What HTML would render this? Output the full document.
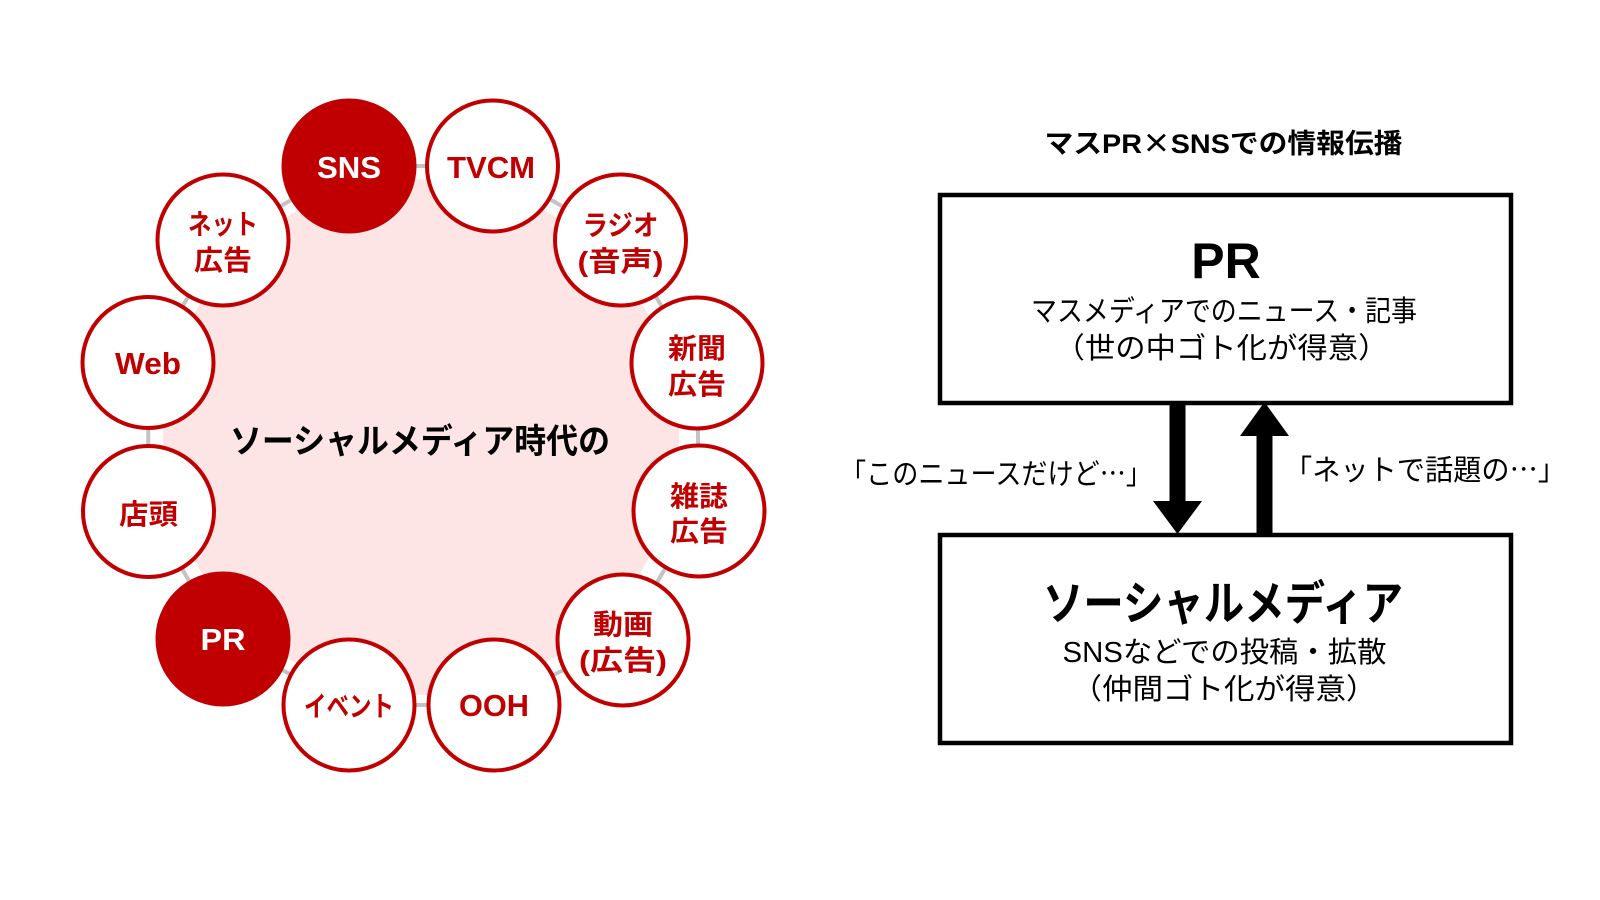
<!DOCTYPE html>
<html lang="ja">
<head>
<meta charset="utf-8">
<style>
  html,body{margin:0;padding:0;background:#fff;}
  body{width:1600px;height:900px;overflow:hidden;}
  svg{display:block;}
  .lat{font-family:"Liberation Sans","Noto Sans CJK JP",sans-serif;font-weight:700;}
  .jpb{font-family:"Liberation Sans","Noto Sans CJK JP",sans-serif;font-weight:700;}
  .jp{font-family:"Liberation Sans","Noto Sans CJK JP",sans-serif;font-weight:400;}
  .cjk{font-family:"Noto Sans CJK JP",sans-serif;}
</style>
</head>
<body>
<svg width="1600" height="900" viewBox="0 0 1600 900" xmlns="http://www.w3.org/2000/svg">
  <rect x="0" y="0" width="1600" height="900" fill="#ffffff"/>

  <!-- pink inner disc -->
  <circle cx="421" cy="437" r="258" fill="#fde5e5"/>

  <!-- gray connectors -->
  <polygon points="349,166 492.5,166 620.5,240 697,363 699,511 623,640 494,705 349,705 223,639 148.5,511.5 148,362.5 223,240"
           fill="none" stroke="#c3c3c3" stroke-width="4"/>

  <!-- circles -->
  <g stroke="#c00000" stroke-width="4">
    <circle cx="349" cy="166" r="65.5" fill="#c00000"/>
    <circle cx="492.5" cy="166" r="65.5" fill="#fff"/>
    <circle cx="620.5" cy="240" r="65.5" fill="#fff"/>
    <circle cx="697" cy="363" r="65.5" fill="#fff"/>
    <circle cx="699" cy="511" r="65.5" fill="#fff"/>
    <circle cx="623" cy="640" r="65.5" fill="#fff"/>
    <circle cx="494" cy="705" r="65.5" fill="#fff"/>
    <circle cx="349" cy="705" r="65.5" fill="#fff"/>
    <circle cx="223" cy="639" r="65.5" fill="#c00000"/>
    <circle cx="148.5" cy="511.5" r="65.5" fill="#fff"/>
    <circle cx="148" cy="362.5" r="65.5" fill="#fff"/>
    <circle cx="223" cy="240" r="65.5" fill="#fff"/>
  </g>

  <!-- circle labels -->
  <g text-anchor="middle" fill="#c00000">
    <text class="lat" x="349" y="178" font-size="31" fill="#ffffff" textLength="64" lengthAdjust="spacingAndGlyphs">SNS</text>
    <text class="lat" x="491" y="178" font-size="31" textLength="88" lengthAdjust="spacingAndGlyphs">TVCM</text>

    <text class="jpb" x="620.5" y="235" font-size="28" textLength="76" lengthAdjust="spacingAndGlyphs">ラジオ</text>
    <text class="jpb" x="620.5" y="271" font-size="28" textLength="86" lengthAdjust="spacingAndGlyphs">(音声)</text>

    <text class="jpb" x="697" y="358" font-size="28" textLength="58" lengthAdjust="spacingAndGlyphs">新聞</text>
    <text class="jpb" x="697" y="394" font-size="28" textLength="58" lengthAdjust="spacingAndGlyphs">広告</text>

    <text class="jpb" x="699" y="506" font-size="28" textLength="58" lengthAdjust="spacingAndGlyphs">雑誌</text>
    <text class="jpb" x="699" y="541" font-size="28" textLength="58" lengthAdjust="spacingAndGlyphs">広告</text>

    <text class="jpb" x="623" y="634" font-size="28" textLength="60" lengthAdjust="spacingAndGlyphs">動画</text>
    <text class="jpb" x="623" y="670" font-size="28" textLength="88" lengthAdjust="spacingAndGlyphs">(広告)</text>

    <text class="lat" x="494" y="716" font-size="31" textLength="70" lengthAdjust="spacingAndGlyphs">OOH</text>
    <text class="jpb" x="349" y="716" font-size="28" textLength="90" lengthAdjust="spacingAndGlyphs">イベント</text>

    <text class="lat" x="223" y="650" font-size="31" fill="#ffffff" textLength="45" lengthAdjust="spacingAndGlyphs">PR</text>

    <text class="jpb" x="148.5" y="524" font-size="28" textLength="59" lengthAdjust="spacingAndGlyphs">店頭</text>
    <text class="lat" x="148" y="374" font-size="31" textLength="66" lengthAdjust="spacingAndGlyphs">Web</text>

    <text class="jpb" x="223" y="234" font-size="28" textLength="70" lengthAdjust="spacingAndGlyphs">ネット</text>
    <text class="jpb" x="223" y="270" font-size="28" textLength="58" lengthAdjust="spacingAndGlyphs">広告</text>
  </g>

  <!-- center text -->
  <text class="jpb" x="420" y="453" font-size="34" text-anchor="middle" fill="#000" textLength="380" lengthAdjust="spacingAndGlyphs">ソーシャルメディア時代の</text>

  <!-- right diagram -->
  <text class="jpb" x="1223.5" y="153" font-size="27" text-anchor="middle" fill="#000" textLength="358" lengthAdjust="spacingAndGlyphs">マスPR<tspan class="cjk">×</tspan>SNSでの情報伝播</text>

  <rect x="940" y="195" width="571" height="208" fill="#fff" stroke="#000" stroke-width="4.5"/>
  <rect x="940" y="535" width="571" height="208" fill="#fff" stroke="#000" stroke-width="4.5"/>

  <text class="lat" x="1226" y="278" font-size="50" text-anchor="middle" fill="#000">PR</text>
  <text class="jp" x="1224" y="321" font-size="29" text-anchor="middle" fill="#000" textLength="386" lengthAdjust="spacingAndGlyphs">マスメディアでのニュース・記事</text>
  <text class="jp" x="1221.5" y="358" font-size="29" text-anchor="middle" fill="#000" textLength="334" lengthAdjust="spacingAndGlyphs">（世の中ゴト化が得意）</text>

  <text class="jpb" x="1223" y="620" font-size="47" text-anchor="middle" fill="#000" textLength="360" lengthAdjust="spacingAndGlyphs">ソーシャルメディア</text>
  <text class="jp" x="1224.5" y="662" font-size="29" text-anchor="middle" fill="#000" textLength="324" lengthAdjust="spacingAndGlyphs">SNSなどでの投稿・拡散</text>
  <text class="jp" x="1224" y="699" font-size="29" text-anchor="middle" fill="#000" textLength="305" lengthAdjust="spacingAndGlyphs">（仲間ゴト化が得意）</text>

  <!-- arrows -->
  <rect x="1169.5" y="403" width="16" height="100" fill="#000"/>
  <polygon points="1153,501 1202,501 1177.5,534" fill="#000"/>

  <rect x="1256.5" y="434" width="16" height="100" fill="#000"/>
  <polygon points="1240,436 1289,436 1264.5,402" fill="#000"/>

  <text class="jp" x="840" y="484" font-size="29" fill="#000" textLength="312" lengthAdjust="spacingAndGlyphs">「このニュースだけど<tspan class="cjk">…</tspan>」</text>
  <text class="jp" x="1284" y="480" font-size="29" fill="#000" textLength="282" lengthAdjust="spacingAndGlyphs">「ネットで話題の<tspan class="cjk">…</tspan>」</text>
</svg>
</body>
</html>
